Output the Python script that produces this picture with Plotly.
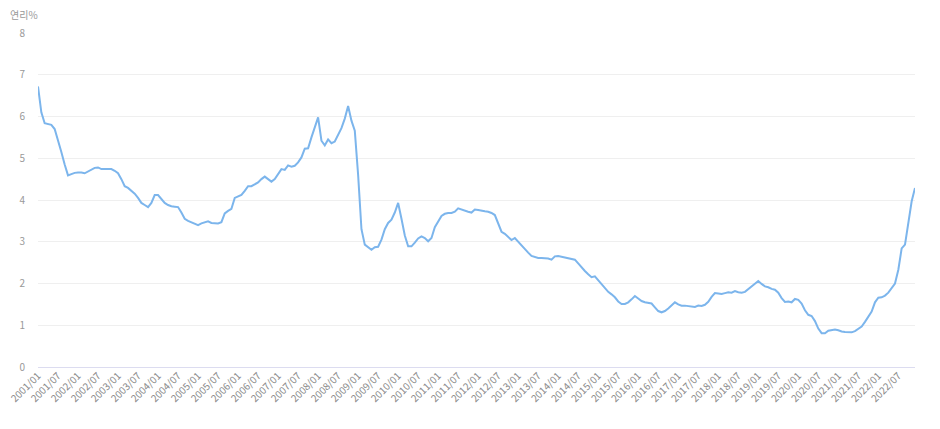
import plotly.graph_objects as go

years = list(range(2001, 2023))
months = [f"{y}/{m:02d}" for y in years for m in range(1, 13)]

rate_2001 = [6.72, 6.10, 5.84, 5.82, 5.80, 5.70, 5.45, 5.15, 4.85, 4.59, 4.62, 4.65]
rate_2002 = [4.66, 4.66, 4.64, 4.68, 4.72, 4.77, 4.78, 4.74, 4.74, 4.74, 4.74, 4.70]
rate_2003 = [4.64, 4.50, 4.33, 4.29, 4.22, 4.15, 4.05, 3.93, 3.88, 3.83, 3.93, 4.12]
rate_2004 = [4.12, 4.02, 3.93, 3.88, 3.85, 3.84, 3.83, 3.70, 3.55, 3.50, 3.47, 3.44]
rate_2005 = [3.40, 3.44, 3.47, 3.49, 3.45, 3.44, 3.44, 3.47, 3.68, 3.74, 3.79, 4.05]
rate_2006 = [4.08, 4.12, 4.22, 4.33, 4.33, 4.38, 4.42, 4.50, 4.56, 4.50, 4.44, 4.50]
rate_2007 = [4.62, 4.74, 4.72, 4.83, 4.80, 4.82, 4.90, 5.02, 5.23, 5.24, 5.50, 5.75]
rate_2008 = [5.98, 5.42, 5.31, 5.45, 5.36, 5.40, 5.55, 5.72, 5.95, 6.25, 5.90, 5.66]
rate_2009 = [4.60, 3.30, 2.93, 2.87, 2.81, 2.87, 2.88, 3.05, 3.30, 3.45, 3.53, 3.70]
rate_2010 = [3.93, 3.55, 3.15, 2.89, 2.89, 2.98, 3.08, 3.13, 3.09, 3.01, 3.09, 3.35]
rate_2011 = [3.50, 3.62, 3.67, 3.69, 3.69, 3.72, 3.80, 3.77, 3.74, 3.72, 3.70, 3.77]
rate_2012 = [3.76, 3.74, 3.73, 3.72, 3.69, 3.64, 3.45, 3.24, 3.19, 3.12, 3.04, 3.09]
rate_2013 = [3.00, 2.90, 2.82, 2.74, 2.66, 2.63, 2.61, 2.61, 2.60, 2.60, 2.57, 2.65]
rate_2014 = [2.66, 2.64, 2.62, 2.60, 2.58, 2.57, 2.48, 2.38, 2.30, 2.22, 2.15, 2.17]
rate_2015 = [2.08, 2.00, 1.90, 1.80, 1.74, 1.67, 1.57, 1.51, 1.51, 1.55, 1.62, 1.70]
rate_2016 = [1.64, 1.58, 1.55, 1.53, 1.52, 1.43, 1.34, 1.31, 1.34, 1.40, 1.48, 1.55]
rate_2017 = [1.50, 1.47, 1.47, 1.46, 1.45, 1.44, 1.47, 1.46, 1.49, 1.56, 1.68, 1.77]
rate_2018 = [1.76, 1.75, 1.77, 1.79, 1.78, 1.82, 1.79, 1.78, 1.80, 1.86, 1.93, 2.00]
rate_2019 = [2.06, 1.99, 1.93, 1.91, 1.87, 1.85, 1.78, 1.65, 1.56, 1.57, 1.55, 1.63]
rate_2020 = [1.61, 1.52, 1.36, 1.25, 1.22, 1.10, 0.92, 0.81, 0.81, 0.87, 0.88, 0.90]
rate_2021 = [0.88, 0.85, 0.84, 0.83, 0.83, 0.86, 0.92, 0.97, 1.08, 1.22, 1.33, 1.55]
rate_2022 = [1.66, 1.67, 1.71, 1.78, 1.88, 2.00, 2.33, 2.84, 2.93, 3.45, 3.97, 4.29]

rates = (rate_2001 + rate_2002 + rate_2003 + rate_2004 + rate_2005 + rate_2006 +
         rate_2007 + rate_2008 + rate_2009 + rate_2010 + rate_2011 + rate_2012 +
         rate_2013 + rate_2014 + rate_2015 + rate_2016 + rate_2017 + rate_2018 +
         rate_2019 + rate_2020 + rate_2021 + rate_2022)

tick_labels = months[::6]
y_ticks = [0, 1, 2, 3, 4, 5, 6, 7, 8]

font_family = "Noto Sans CJK KR, Noto Sans, sans-serif"

fig = go.Figure()
fig.add_trace(go.Scatter(
    x=months, y=rates, mode="lines",
    line=dict(color="#7cb5ec", width=2),
    hoverinfo="x+y", showlegend=False,
))

fig.update_layout(
    width=932, height=421,
    margin=dict(l=30, r=25, t=25, b=62),
    paper_bgcolor="white", plot_bgcolor="white",
    font=dict(family=font_family, size=10, color="#999999"),
    xaxis=dict(
        type="category",
        range=[0, len(months) - 1],
        tickmode="array", tickvals=tick_labels, ticktext=tick_labels,
        tickangle=-45,
        tickfont=dict(size=10, color="#8a8a8a"),
        showgrid=False, zeroline=False,
        showline=False, ticks="",
        automargin=False,
    ),
    yaxis=dict(
        range=[0, 8],
        tickmode="array", tickvals=y_ticks,
        tickfont=dict(size=10, color="#999999"),
        showgrid=True, gridcolor="#efefef", gridwidth=1,
        zeroline=True, zerolinecolor="#dcdcf0", zerolinewidth=1,
        showline=False, ticks="",
        ticklabelstandoff=12,
        automargin=False,
    ),
    annotations=[dict(
        text="연리%", xref="paper", yref="paper",
        x=-30 / 877, y=1 + 18 / 334, xanchor="left", yanchor="middle",
        showarrow=False, font=dict(size=10, color="#999999", family=font_family),
    )],
)

fig.write_html("out.html")
